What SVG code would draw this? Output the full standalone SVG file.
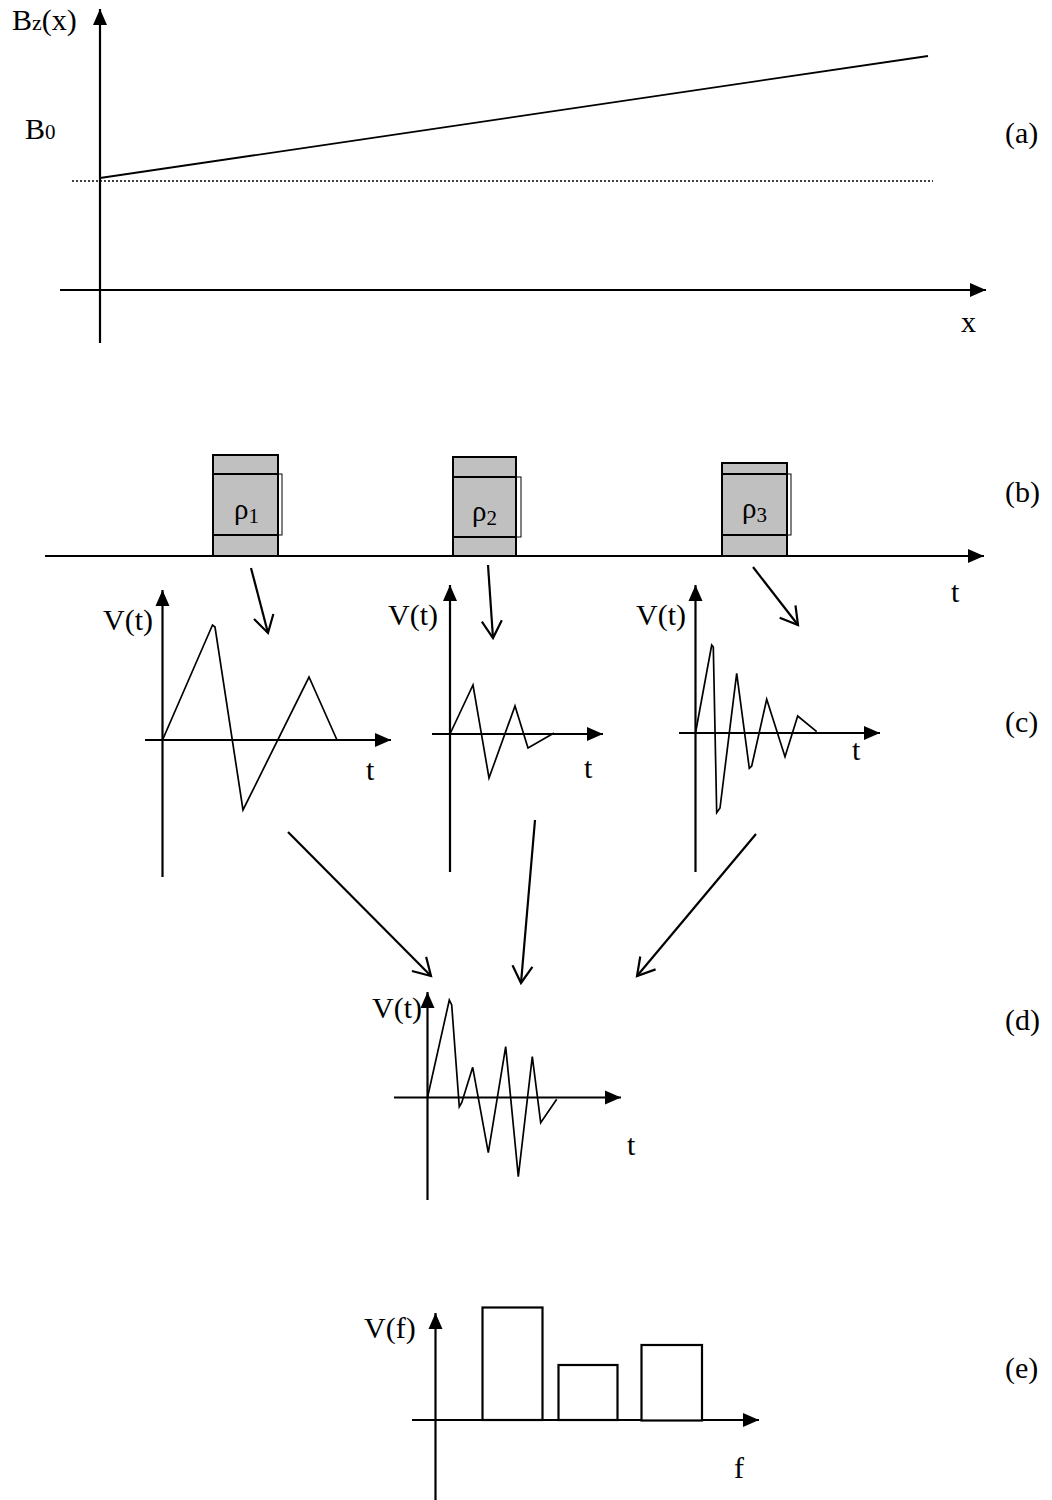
<svg xmlns="http://www.w3.org/2000/svg" width="1052" height="1500" viewBox="0 0 1052 1500">
<style>
text{font-family:"Liberation Serif","Times New Roman",serif;font-size:30px;fill:#000}
.ax{stroke:#000;stroke-width:2.2;fill:none;marker-end:url(#tri)}
.ln{stroke:#000;stroke-width:1.8;fill:none}
.wv{stroke:#000;stroke-width:1.7;fill:none;stroke-linejoin:miter}
.con{stroke:#000;stroke-width:2.2;fill:none;marker-end:url(#vee)}
.blk{fill:#c0c0c0;stroke:#000;stroke-width:2}
.thin{fill:none;stroke:#000;stroke-width:1}
.bar{fill:#fff;stroke:#000;stroke-width:2.2}
.rho{font-size:29px}
</style>
<defs>
<marker id="tri" markerUnits="userSpaceOnUse" markerWidth="18" markerHeight="16" refX="16" refY="7" orient="auto" overflow="visible">
<path d="M0,0 L16,7 L0,14 z" fill="#000"/>
</marker>
<marker id="vee" markerUnits="userSpaceOnUse" markerWidth="22" markerHeight="24" refX="17" refY="10" orient="auto" overflow="visible">
<path d="M0,0 L17,10 L0,20" fill="none" stroke="#000" stroke-width="2.2"/>
</marker>
</defs>
<rect width="1052" height="1500" fill="#fff"/>

<g id="panel-a">
<line class="ax" x1="100" y1="343" x2="100" y2="9"/>
<line class="ax" x1="60" y1="290" x2="986" y2="290"/>
<line class="ln" x1="100" y1="178" x2="928" y2="56"/>
<line x1="72" y1="181" x2="933" y2="181" stroke="#000" stroke-width="1.5" stroke-dasharray="2,2"/>
<text x="12" y="30">B<tspan font-size="22">z</tspan>(x)</text>
<text x="25" y="139">B<tspan font-size="21">0</tspan></text>
<text x="961" y="332">x</text>
<text x="1005" y="143">(a)</text>
</g>

<g id="panel-b">
<line class="ax" x1="45" y1="556" x2="984" y2="556"/>
<text x="951" y="602">t</text>
<text x="1005" y="502">(b)</text>
<g id="pulse-1">
<rect class="blk" x="213" y="455" width="65" height="101"/>
<line class="ln" x1="213" y1="474" x2="278" y2="474" stroke-width="2"/>
<line class="ln" x1="213" y1="535" x2="278" y2="535" stroke-width="2"/>
<rect class="thin" x="213" y="474" width="69" height="61"/>
<text class="rho" x="234" y="519">ρ<tspan font-size="21" dy="4">1</tspan></text>
</g>
<g id="pulse-2">
<rect class="blk" x="453" y="457" width="63" height="99"/>
<line class="ln" x1="453" y1="477" x2="516" y2="477" stroke-width="2"/>
<line class="ln" x1="453" y1="537" x2="516" y2="537" stroke-width="2"/>
<rect class="thin" x="453" y="477" width="68" height="60"/>
<text class="rho" x="472" y="521">ρ<tspan font-size="21" dy="4">2</tspan></text>
</g>
<g id="pulse-3">
<rect class="blk" x="722" y="463" width="65" height="93"/>
<line class="ln" x1="722" y1="474" x2="787" y2="474" stroke-width="2"/>
<line class="ln" x1="722" y1="535" x2="787" y2="535" stroke-width="2"/>
<rect class="thin" x="722" y="474" width="69" height="61"/>
<text class="rho" x="742" y="518">ρ<tspan font-size="21" dy="4">3</tspan></text>
</g>
</g>

<g id="signal-1">
<line class="ax" x1="162.5" y1="877" x2="162.5" y2="590"/>
<line class="ax" x1="145" y1="740" x2="391" y2="740"/>
<polyline class="wv" points="162.5,740 212.5,625 215,627 243,810 309,677 337,740"/>
<text x="103" y="630">V(t)</text>
<text x="366" y="780">t</text>
</g>
<g id="signal-2">
<line class="ax" x1="450" y1="872" x2="450" y2="585"/>
<line class="ax" x1="432" y1="734" x2="603" y2="734"/>
<polyline class="wv" points="450,734 473,685 489,778 515,706 528,748 554,733"/>
<text x="388" y="625">V(t)</text>
<text x="584" y="778">t</text>
</g>
<g id="signal-3">
<line class="ax" x1="695.5" y1="872" x2="695.5" y2="585"/>
<line class="ax" x1="679" y1="733" x2="880" y2="733"/>
<polyline class="wv" points="695.5,733 711.7,645 713.3,647 716.7,812.7 720,808 736.7,673.3 749.3,768.3 751.7,766 766.7,699.3 785,756.7 797.7,716 816.7,731.7"/>
<text x="636" y="625">V(t)</text>
<text x="852" y="760">t</text>
<text x="1005" y="732">(c)</text>
</g>

<g id="signal-sum">
<line class="ax" x1="427.5" y1="1200" x2="427.5" y2="992"/>
<line class="ax" x1="394" y1="1097.5" x2="621" y2="1097.5"/>
<polyline class="wv" points="427.5,1097.5 449.3,1000 451.7,1005 459.3,1106.7 461.7,1102.7 472.7,1067.3 488.3,1152.7 505.7,1046.7 518.3,1176.7 532.3,1056.7 540.7,1122.7 556.7,1099.3"/>
<text x="372" y="1018">V(t)</text>
<text x="627" y="1155">t</text>
<text x="1005" y="1030">(d)</text>
</g>

<g id="spectrum">
<line class="ax" x1="435.5" y1="1500" x2="435.5" y2="1313"/>
<line class="ax" x1="412" y1="1420" x2="759" y2="1420"/>
<rect class="bar" x="482.5" y="1307.5" width="60" height="112.5"/>
<rect class="bar" x="558.5" y="1365" width="59" height="55"/>
<rect class="bar" x="641.5" y="1345" width="60.5" height="75.5"/>
<text x="364" y="1338">V(f)</text>
<text x="734" y="1478">f</text>
<text x="1005" y="1378">(e)</text>
</g>

<g id="connectors">
<line class="con" x1="251" y1="568" x2="268" y2="633"/>
<line class="con" x1="488" y1="565" x2="493" y2="638"/>
<line class="con" x1="753" y1="567" x2="798" y2="625"/>
<line class="con" x1="288" y1="832" x2="431" y2="976"/>
<line class="con" x1="535" y1="820" x2="521" y2="983"/>
<line class="con" x1="756" y1="834" x2="637" y2="976"/>
</g>
</svg>
